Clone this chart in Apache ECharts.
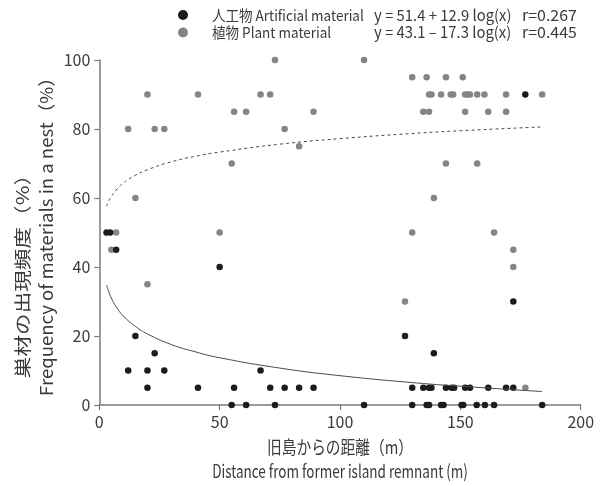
<!DOCTYPE html>
<html>
<head>
<meta charset="utf-8">
<script src="https://cdn.jsdelivr.net/npm/echarts@6/dist/echarts.min.js"></script>
<style>html,body{margin:0;padding:0;background:#fff}#c{width:600px;height:486px}</style>
</head>
<body>
<div id="c"></div>
<script>
// ---- data ----
const xTicks = [0, 50, 100, 150, 200];
const yTicks = [0, 20, 40, 60, 80, 100];

// 人工物 Artificial material (dark dots)
const artificial = [
  [3,50],[4.5,50],[7,45],[50,40],[15,20],[23,15],[12,10],[20,10],[27,10],[67,10],
  [20,5],[41,5],[56,5],[55,0],[61,0],
  [127,20],[71,5],[77,5],[83,5],[89,5],[130,5],[73,0],[110,0],[130,0],
  [172,30],[139,15],
  [134.6,5],[137,5],[138,5],[144,5],[146.4,5],[147.4,5],[152,5],[154,5],[161.6,5],[169,5],[172,5],
  [136,0],[137,0],[142,0],[143,0],[150.5,0],[151.2,0],[156.8,0],[160.2,0],[164,0],[184,0],
  [177,90]
];

// 植物 Plant material (grey dots)
const plant = [
  [7,50],[5,45],[50,50],[20,35],[130,50],[127,30],[164,50],[172,45],[172,40],[177,5],
  [20,90],[41,90],[67,90],[71,90],[12,80],[23,80],[27,80],[56,85],[61,85],[55,70],[15,60],
  [73,100],[110,100],[89,85],[77,80],[83,75],
  [130,95],[136,95],[144,95],[151,95],
  [137,90],[138,90],[142,90],[146,90],[147,90],[152,90],[153,90],[154,90],[157,90],[160,90],[169,90],[184,90],
  [134.6,85],[137,85],[152,85],[161.6,85],[169,85],
  [144,70],[157,70],[139,60]
];

// fitted curves, values
const lowerCurve = [[3,34.8],[4,32.7],[5,31.0],[7,28.5],[10,25.8],[15,22.8],[20,20.6],[30,17.5],[40,15.4],[50,13.7],[75,10.7],[100,8.5],[130,6.5],[150,5.45],[184,3.9]];
const upperCurve = [[3,57.6],[4,59.2],[5,60.4],[7,62.3],[10,64.3],[15,66.6],[20,68.2],[30,70.5],[40,72.1],[50,73.3],[75,75.6],[100,77.2],[130,78.7],[150,79.5],[184,80.6]];

const legendLabels = ['人工物 Artificial material', '植物 Plant material'];
const legendFormulas = ['y = 51.4 + 12.9 log(x)', 'y = 43.1 – 17.3 log(x)'];
const legendR = ['r=0.267', 'r=0.445'];
const xTitle = ['旧島からの距離（m）', 'Distance from former island remnant (m)'];
const yTitle = ['巣材の出現頻度（%）', 'Frequency of materials in a nest（%）'];

// ---- chart ----
const FONT = '"Noto Sans CJK JP", "Noto Sans", sans-serif';
const TXT = '#3a3a3a';
const COLORS = ['#1c1c1c', '#858585'];
const chart = echarts.init(document.getElementById('c'), null, {renderer: 'canvas'});

function txt(text, x, y, size, opts) {
  opts = opts || {};
  return {
    type: 'text', x: x, y: y,
    rotation: opts.rotation || 0,
    scaleX: opts.sx || 1, scaleY: opts.sy || 1,
    style: {text: text, font: size + 'px ' + FONT, fill: TXT,
            textAlign: opts.align || 'left', textVerticalAlign: 'middle'}
  };
}

const graphics = [];
legendLabels.forEach((label, i) => {
  const cy = 15 + i * 17.5;
  graphics.push({type: 'circle', shape: {cx: 183, cy: cy, r: 5}, style: {fill: COLORS[i]}});
  graphics.push(txt(label, 212, cy, 13, {sx: 1.04, sy: 1.15}));
  graphics.push(txt(legendFormulas[i], 374, cy, 14, {sx: 1.06, sy: 1.1}));
  graphics.push(txt(legendR[i], 522, cy, 14, {sx: 1.14, sy: 1.1}));
});
graphics.push(txt(xTitle[0], 340, 447, 15, {align: 'center', sx: 0.98, sy: 1.2}));
graphics.push(txt(xTitle[1], 340, 471, 15, {align: 'center', sx: 0.9, sy: 1.2}));
graphics.push(txt(yTitle[0], 22, 271, 16, {align: 'center', rotation: Math.PI / 2, sx: 1.35, sy: 1.1}));
graphics.push(txt(yTitle[1], 46, 232, 16, {align: 'center', rotation: Math.PI / 2, sx: 1.16, sy: 1.1}));

chart.setOption({
  animation: false,
  backgroundColor: '#fff',
  grid: {left: 99.3, right: 19.3, top: 60, bottom: 81, containLabel: false},
  xAxis: {
    type: 'value', min: xTicks[0], max: xTicks[xTicks.length - 1], interval: 50,
    splitLine: {show: false},
    axisLine: {show: true, onZero: false, lineStyle: {color: '#7a7a7a', width: 1.5}},
    axisTick: {show: true, length: 5, lineStyle: {color: '#7a7a7a', width: 1.2}},
    axisLabel: {color: TXT, fontSize: 16, fontFamily: FONT, margin: 9}
  },
  yAxis: {
    type: 'value', min: yTicks[0], max: yTicks[yTicks.length - 1], interval: 20,
    splitLine: {show: false},
    axisLine: {show: true, lineStyle: {color: '#7a7a7a', width: 1.5}},
    axisTick: {show: true, length: 5, lineStyle: {color: '#7a7a7a', width: 1.2}},
    axisLabel: {color: TXT, fontSize: 16, fontFamily: FONT, margin: 9}
  },
  series: [
    {type: 'line', data: upperCurve, smooth: true, showSymbol: false, silent: true,
     lineStyle: {color: '#4a4a4a', width: 1, type: [3, 3]}},
    {type: 'line', data: lowerCurve, smooth: true, showSymbol: false, silent: true,
     lineStyle: {color: '#4a4a4a', width: 1}},
    {type: 'scatter', name: 'plant', data: plant, symbolSize: 6.5, itemStyle: {color: COLORS[1], opacity: 1}},
    {type: 'scatter', name: 'artificial', data: artificial, symbolSize: 6.5, itemStyle: {color: COLORS[0], opacity: 1}}
  ],
  graphic: graphics
});
</script>
</body>
</html>
